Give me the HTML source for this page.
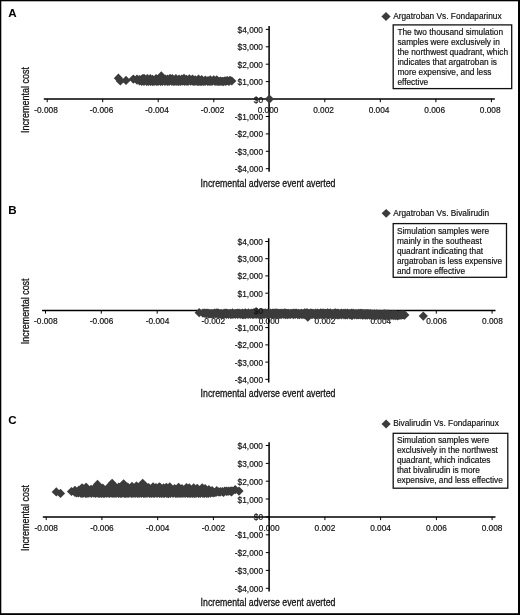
<!DOCTYPE html>
<html><head><meta charset="utf-8"><style>
html,body{margin:0;padding:0;background:#fff;}
body{width:520px;height:615px;overflow:hidden;}
svg{display:block;filter:grayscale(1) blur(0.3px);}
text{font-family:"Liberation Sans",sans-serif;stroke:#111;stroke-width:0.18px;}
.t{stroke-width:0.28px;}
.L{stroke:none;}
</style></head><body>
<svg width="520" height="615" viewBox="0 0 520 615" font-family="Liberation Sans, sans-serif" font-size="8.3" fill="#111">
<rect x="0" y="0" width="520" height="615" fill="#000"/>
<rect x="1.3" y="1.3" width="516.7" height="611.9" fill="#fff"/>
<text x="8.3" y="16.7" class="L" font-size="11.6" font-weight="bold" fill="#000">A</text>
<text x="263" y="32.9" text-anchor="end">$4,000</text>
<text x="263" y="50.3" text-anchor="end">$3,000</text>
<text x="263" y="67.7" text-anchor="end">$2,000</text>
<text x="263" y="85.1" text-anchor="end">$1,000</text>
<text x="263" y="120" text-anchor="end">-$1,000</text>
<text x="263" y="137.4" text-anchor="end">-$2,000</text>
<text x="263" y="154.8" text-anchor="end">-$3,000</text>
<text x="263" y="172.2" text-anchor="end">-$4,000</text>
<text x="46" y="113" text-anchor="middle">-0.008</text>
<text x="101.5" y="113" text-anchor="middle">-0.006</text>
<text x="157.1" y="113" text-anchor="middle">-0.004</text>
<text x="212.6" y="113" text-anchor="middle">-0.002</text>
<text x="268.1" y="113" text-anchor="middle">0.000</text>
<text x="323.6" y="113" text-anchor="middle">0.002</text>
<text x="379.1" y="113" text-anchor="middle">0.004</text>
<text x="434.7" y="113" text-anchor="middle">0.006</text>
<text x="490.2" y="113" text-anchor="middle">0.008</text>
<path d="M43.8 99H494.8M269.1 26.1V171.8" stroke="#000" stroke-width="1.5" fill="none"/>
<path d="M265.8 29.4H269.1M47.2 99V102.2M265.8 46.8H269.1M102.7 99V102.2M265.8 64.2H269.1M158.2 99V102.2M265.8 81.6H269.1M213.8 99V102.2M265.8 99H269.1M269.3 99V102.2M265.8 116.5H269.1M324.8 99V102.2M265.8 133.9H269.1M380.3 99V102.2M265.8 151.3H269.1M435.9 99V102.2M265.8 168.7H269.1M491.4 99V102.2" stroke="#000" stroke-width="1" fill="none"/>
<path d="M137 78.9L137 80.1L139.4 80.1L141.6 80L144.4 80L147.4 80L150.3 80.1L152.5 80.2L156.1 79.9L158.6 79.3L162.4 78.9L165.2 79.2L167.4 79.4L170 79.7L172.3 79.7L175.9 79.7L179.1 79.8L181.8 79.8L184 79.8L186.5 79.8L189.4 79.9L192.5 80L195.2 80.1L198.5 80.2L201.7 80.3L205.3 80.5L208 80.6L210.3 80.7L213.7 81.1L216.7 81.4L220 81.6L223.2 81.9L225.8 82L229 82.1L231.8 81L231.8 80.3L230 80.2L227.5 80.5L226 80.7L224.5 80.8L221.9 81L220.3 81.2L218.6 81.2L217.1 81.2L215.1 81.2L212.5 81.2L211 81.2L209.2 81.2L207.6 81.2L205.1 81.2L203.3 81.2L201.7 81.2L200.2 81.2L198.7 81.2L197.2 81.2L195 81.2L193.1 81.2L190.8 81.2L188.4 81.2L187 81.2L184.8 81.2L182.6 81.2L180.5 81.2L178.6 81.2L176.9 81.2L174.9 81.2L173.2 81.2L171.7 81.2L169.2 81.2L167.3 81.2L164.9 81.2L162.4 81.2L160.5 81.2L158 81.2L156.3 81.2L154 81.2L152.5 81.2L150.5 81.2L148.3 81.2L146.6 81.2L144 81.2L141.7 81.1L139.5 80.7L137 80.1L137 80.4ZM132.4 79L137 74.4L141.6 79L137 83.6ZM134.8 79.5L139.4 74.9L144 79.5L139.4 84.1ZM137 79.3L141.6 74.7L146.2 79.3L141.6 83.9ZM139.8 78.5L144.4 73.9L149 78.5L144.4 83.1ZM142.8 78.5L147.4 73.9L152 78.5L147.4 83.1ZM145.7 78.7L150.3 74.1L154.9 78.7L150.3 83.3ZM147.9 79.3L152.5 74.7L157.1 79.3L152.5 83.9ZM151.5 78.6L156.1 74L160.7 78.6L156.1 83.2ZM154 78.7L158.6 74.1L163.2 78.7L158.6 83.3ZM157.8 78.2L162.4 73.6L167 78.2L162.4 82.8ZM160.6 79.1L165.2 74.5L169.8 79.1L165.2 83.7ZM162.8 79.2L167.4 74.6L172 79.2L167.4 83.8ZM165.4 78.4L170 73.8L174.6 78.4L170 83ZM167.7 78.6L172.3 74L176.9 78.6L172.3 83.2ZM171.3 78.5L175.9 73.9L180.5 78.5L175.9 83.1ZM174.5 79.2L179.1 74.6L183.7 79.2L179.1 83.8ZM177.2 79.1L181.8 74.5L186.4 79.1L181.8 83.7ZM179.4 78.3L184 73.7L188.6 78.3L184 82.9ZM181.9 79.3L186.5 74.7L191.1 79.3L186.5 83.9ZM184.8 78.8L189.4 74.2L194 78.8L189.4 83.4ZM187.9 79.1L192.5 74.5L197.1 79.1L192.5 83.7ZM190.6 79.8L195.2 75.2L199.8 79.8L195.2 84.4ZM193.9 79L198.5 74.4L203.1 79L198.5 83.6ZM197.1 79.5L201.7 74.9L206.3 79.5L201.7 84.1ZM200.7 80L205.3 75.4L209.9 80L205.3 84.6ZM203.4 80.6L208 76L212.6 80.6L208 85.2ZM205.7 79.8L210.3 75.2L214.9 79.8L210.3 84.4ZM209.1 79.8L213.7 75.2L218.3 79.8L213.7 84.4ZM212.1 79.9L216.7 75.3L221.3 79.9L216.7 84.5ZM215.4 81.3L220 76.7L224.6 81.3L220 85.9ZM218.6 81.7L223.2 77.1L227.8 81.7L223.2 86.3ZM221.2 81.5L225.8 76.9L230.4 81.5L225.8 86.1ZM224.4 81.5L229 76.9L233.6 81.5L229 86.1ZM132.4 80.1L137 75.5L141.6 80.1L137 84.7ZM134.9 80.8L139.5 76.2L144.1 80.8L139.5 85.4ZM137.1 81.4L141.7 76.8L146.3 81.4L141.7 86ZM139.4 81.3L144 76.7L148.6 81.3L144 85.9ZM142 81.3L146.6 76.7L151.2 81.3L146.6 85.9ZM143.7 81.4L148.3 76.8L152.9 81.4L148.3 86ZM145.9 81.5L150.5 76.9L155.1 81.5L150.5 86.1ZM147.9 81.4L152.5 76.8L157.1 81.4L152.5 86ZM149.4 81.5L154 76.9L158.6 81.5L154 86.1ZM151.7 81.5L156.3 76.9L160.9 81.5L156.3 86.1ZM153.4 81.4L158 76.8L162.6 81.4L158 86ZM155.9 81.5L160.5 76.9L165.1 81.5L160.5 86.1ZM157.8 81.3L162.4 76.7L167 81.3L162.4 85.9ZM160.3 81.3L164.9 76.7L169.5 81.3L164.9 85.9ZM162.7 81.4L167.3 76.8L171.9 81.4L167.3 86ZM164.6 81.4L169.2 76.8L173.8 81.4L169.2 86ZM167.1 81.2L171.7 76.6L176.3 81.2L171.7 85.8ZM168.6 81.4L173.2 76.8L177.8 81.4L173.2 86ZM170.3 81.4L174.9 76.8L179.5 81.4L174.9 86ZM172.3 81.3L176.9 76.7L181.5 81.3L176.9 85.9ZM174 81.5L178.6 76.9L183.2 81.5L178.6 86.1ZM175.9 81.4L180.5 76.8L185.1 81.4L180.5 86ZM178 81.2L182.6 76.6L187.2 81.2L182.6 85.8ZM180.2 81.3L184.8 76.7L189.4 81.3L184.8 85.9ZM182.4 81.3L187 76.7L191.6 81.3L187 85.9ZM183.8 81.2L188.4 76.6L193 81.2L188.4 85.8ZM186.2 81.2L190.8 76.6L195.4 81.2L190.8 85.8ZM188.5 81.4L193.1 76.8L197.7 81.4L193.1 86ZM190.4 81.5L195 76.9L199.6 81.5L195 86.1ZM192.6 81.5L197.2 76.9L201.8 81.5L197.2 86.1ZM194.1 81.4L198.7 76.8L203.3 81.4L198.7 86ZM195.6 81.4L200.2 76.8L204.8 81.4L200.2 86ZM197.1 81.5L201.7 76.9L206.3 81.5L201.7 86.1ZM198.7 81.5L203.3 76.9L207.9 81.5L203.3 86.1ZM200.5 81.5L205.1 76.9L209.7 81.5L205.1 86.1ZM203 81.3L207.6 76.7L212.2 81.3L207.6 85.9ZM204.6 81.4L209.2 76.8L213.8 81.4L209.2 86ZM206.4 81.4L211 76.8L215.6 81.4L211 86ZM207.9 81.2L212.5 76.6L217.1 81.2L212.5 85.8ZM210.5 81.4L215.1 76.8L219.7 81.4L215.1 86ZM212.5 81.5L217.1 76.9L221.7 81.5L217.1 86.1ZM214 81.4L218.6 76.8L223.2 81.4L218.6 86ZM215.7 81.2L220.3 76.6L224.9 81.2L220.3 85.8ZM217.3 81.3L221.9 76.7L226.5 81.3L221.9 85.9ZM219.9 81L224.5 76.4L229.1 81L224.5 85.6ZM221.4 80.8L226 76.2L230.6 80.8L226 85.4ZM222.9 80.7L227.5 76.1L232.1 80.7L227.5 85.3ZM225.4 80.3L230 75.7L234.6 80.3L230 84.9ZM113.8 78.2L118.4 73.6L123 78.2L118.4 82.8ZM115.7 81L120.3 76.4L124.9 81L120.3 85.6ZM121.4 80.4L126 75.8L130.6 80.4L126 85ZM128.7 79.1L133.3 74.5L137.9 79.1L133.3 83.7ZM138.4 78.4L143 73.8L147.6 78.4L143 83ZM156.7 75.9L161.3 71.3L165.9 75.9L161.3 80.5ZM227.2 81L231.8 76.4L236.4 81L231.8 85.6ZM264.8 99.1L269.4 94.5L274 99.1L269.4 103.7Z" fill="#3b3b3b"/>
<text x="263" y="102.5" text-anchor="end">$0</text>
<path d="M381.4 16.4L386 12L390.6 16.4L386 20.9Z" fill="#3b3b3b"/>
<text x="393.2" y="18.8">Argatroban Vs. Fondaparinux</text>
<rect x="393.2" y="24.9" width="118.5" height="63.7" fill="#fff" stroke="#111" stroke-width="1.3"/>
<text x="397.4" y="34.9">The two thousand simulation</text>
<text x="397.4" y="44.9">samples were exclusively in</text>
<text x="397.4" y="54.9">the northwest quadrant, which</text>
<text x="397.4" y="64.8">indicates that argatroban is</text>
<text x="397.4" y="74.8">more expensive, and less</text>
<text x="397.4" y="84.8">effective</text>
<text x="200.6" y="186.8" class="t" font-size="10.2" textLength="134.8" lengthAdjust="spacingAndGlyphs">Incremental adverse event averted</text>
<text transform="translate(29 132.9) rotate(-90)" class="t" font-size="10.2" textLength="65.8" lengthAdjust="spacingAndGlyphs">Incremental cost</text>
<text x="8.3" y="214.2" class="L" font-size="11.6" font-weight="bold" fill="#000">B</text>
<text x="263" y="245" text-anchor="end">$4,000</text>
<text x="263" y="262.2" text-anchor="end">$3,000</text>
<text x="263" y="279.4" text-anchor="end">$2,000</text>
<text x="263" y="296.7" text-anchor="end">$1,000</text>
<text x="263" y="331.1" text-anchor="end">-$1,000</text>
<text x="263" y="348.4" text-anchor="end">-$2,000</text>
<text x="263" y="365.6" text-anchor="end">-$3,000</text>
<text x="263" y="382.8" text-anchor="end">-$4,000</text>
<text x="45.8" y="324.4" text-anchor="middle">-0.008</text>
<text x="101.6" y="324.4" text-anchor="middle">-0.006</text>
<text x="157.5" y="324.4" text-anchor="middle">-0.004</text>
<text x="213.3" y="324.4" text-anchor="middle">-0.002</text>
<text x="269.1" y="324.4" text-anchor="middle">0.000</text>
<text x="324.9" y="324.4" text-anchor="middle">0.002</text>
<text x="380.8" y="324.4" text-anchor="middle">0.004</text>
<text x="436.6" y="324.4" text-anchor="middle">0.006</text>
<text x="492.4" y="324.4" text-anchor="middle">0.008</text>
<path d="M42.1 310.4H495.5M268.7 238.2V382.4" stroke="#000" stroke-width="1.5" fill="none"/>
<path d="M265.3 241.5H268.7M45.5 310.4V313.6M265.3 258.7H268.7M101.3 310.4V313.6M265.3 275.9H268.7M157.2 310.4V313.6M265.3 293.2H268.7M213 310.4V313.6M265.3 310.4H268.7M268.8 310.4V313.6M265.3 327.6H268.7M324.6 310.4V313.6M265.3 344.9H268.7M380.5 310.4V313.6M265.3 362.1H268.7M436.3 310.4V313.6M265.3 379.3H268.7M492.1 310.4V313.6" stroke="#000" stroke-width="1" fill="none"/>
<path d="M203 313L203 313.6L204.4 313.6L206.1 313.6L207.9 313.6L209.1 313.6L211.1 313.6L212.8 313.6L214.6 313.6L216.1 313.6L217.1 313.6L218.4 313.6L220.1 313.6L221.6 313.6L223.5 313.6L224.9 313.6L226.1 313.6L227.4 313.6L229.2 313.6L230.7 313.6L232.5 313.6L234.1 313.6L235.9 313.6L237.4 313.6L239.1 313.6L240.9 313.6L242.3 313.6L244.2 313.6L245.4 313.6L246.6 313.6L248.4 313.6L250.2 313.6L251.8 313.6L253.4 313.6L254.4 313.6L256.1 313.6L257.9 313.6L259.8 313.6L261 313.6L262.3 313.6L263.9 313.6L265.3 313.6L267.2 313.6L268.7 313.6L270.5 313.6L272.4 313.6L273.9 313.6L275 313.6L276.2 313.6L278 313.6L279.5 313.6L281 313.6L282.5 313.6L284.3 313.6L285.8 313.6L287.1 313.6L288.6 313.6L290.4 313.6L291.8 313.6L293.3 313.6L295 313.6L296.5 313.6L298.4 313.6L300.3 313.6L301.6 313.6L303.5 313.6L304.6 313.6L306.1 313.6L307.3 313.6L309 313.6L310.9 313.6L312.5 313.6L313.7 313.6L315.6 313.6L317.6 313.6L319 313.6L320.8 313.6L322.3 313.6L323.6 313.6L325 313.6L326 313.6L327.5 313.6L328.8 313.6L330.3 313.6L332.3 313.6L334.2 313.7L335.5 313.7L337.2 313.7L338.4 313.7L340.3 313.7L341.6 313.7L343.4 313.8L345.1 313.8L346.2 313.8L347.7 313.8L349.6 313.8L351.3 313.9L353.1 313.9L355 313.9L356.3 313.9L358.2 314L359.4 314L360.6 314L361.8 314L363.1 314L364.4 314L365.7 314L366.9 314.1L368 314.1L369 314.1L370.6 314.1L372.1 314.2L373.2 314.2L374.7 314.3L376.5 314.4L378 314.4L379.9 314.5L381.7 314.6L383.3 314.6L384.7 314.7L385.8 314.7L387.6 314.8L388.8 314.9L390.6 314.9L392.2 315L393.5 315L394.9 315.1L396.4 315.2L398.3 315.3L399.9 315.3L401.8 315.4L403.1 315.5L404.5 315.6L405 315L405 315L404.8 314.7L403.1 314.9L400.9 315L399.4 315.1L397.7 315.3L395.8 315.4L393.8 315.5L391.9 315.4L389.5 315.4L387.7 315.4L386.2 315.3L384.7 315.3L383.2 315.3L380.6 315.3L378.9 315.2L376.4 315.2L374.8 315.2L372.9 315.1L371.2 315.1L369.5 315.1L367.2 315L365.4 315L363.8 315L362.4 314.9L360.2 314.9L358.2 314.9L356.8 314.9L354.7 314.8L352.2 314.8L349.9 314.8L347.3 314.7L345.7 314.7L344 314.7L341.4 314.7L339 314.6L337.6 314.6L335.7 314.6L333.6 314.5L331.7 314.5L329.9 314.5L327.7 314.5L326.1 314.5L323.8 314.5L321.4 314.5L319.6 314.5L317.9 314.5L315.9 314.5L314.4 314.5L312 314.5L309.7 314.5L307.7 314.5L306.1 314.5L304.1 314.5L302 314.4L299.5 314.4L297.8 314.4L295.2 314.4L293.3 314.4L290.7 314.4L289.1 314.4L287.5 314.4L285.6 314.4L283.8 314.4L281.6 314.4L279.9 314.4L278.5 314.4L276.7 314.4L275 314.4L273.5 314.4L271.4 314.4L269.1 314.4L267.3 314.4L264.7 314.4L263.1 314.4L261.4 314.4L259.7 314.4L258.2 314.4L256.1 314.4L253.8 314.4L252.4 314.4L250.2 314.3L248.1 314.3L245.7 314.3L243.8 314.3L242.4 314.3L240.2 314.3L237.7 314.3L235.3 314.3L232.9 314.3L230.9 314.3L228.5 314.3L226.3 314.3L223.9 314.3L221.8 314.2L220.2 314.1L218.4 314L215.9 314L213.7 313.9L211.7 313.8L210 313.6L208.6 313.5L206.7 313.3L205 313.2L203 313L203 313.3ZM198.4 313L203 308.4L207.6 313L203 317.6ZM199.8 313L204.4 308.4L209 313L204.4 317.6ZM201.5 313.2L206.1 308.6L210.7 313.2L206.1 317.8ZM203.3 313.1L207.9 308.5L212.5 313.1L207.9 317.7ZM204.5 313.5L209.1 308.9L213.7 313.5L209.1 318.1ZM206.5 313.5L211.1 308.9L215.7 313.5L211.1 318.1ZM208.2 313.5L212.8 308.9L217.4 313.5L212.8 318.1ZM210 313L214.6 308.4L219.2 313L214.6 317.6ZM211.5 313.1L216.1 308.5L220.7 313.1L216.1 317.7ZM212.5 312.8L217.1 308.2L221.7 312.8L217.1 317.4ZM213.8 313L218.4 308.4L223 313L218.4 317.6ZM215.5 313.6L220.1 309L224.7 313.6L220.1 318.2ZM217 313.6L221.6 309L226.2 313.6L221.6 318.2ZM218.9 313.6L223.5 309L228.1 313.6L223.5 318.2ZM220.3 313L224.9 308.4L229.5 313L224.9 317.6ZM221.5 313L226.1 308.4L230.7 313L226.1 317.6ZM222.8 313.3L227.4 308.7L232 313.3L227.4 317.9ZM224.6 313.5L229.2 308.9L233.8 313.5L229.2 318.1ZM226.1 313.3L230.7 308.7L235.3 313.3L230.7 317.9ZM227.9 312.9L232.5 308.3L237.1 312.9L232.5 317.5ZM229.5 313.5L234.1 308.9L238.7 313.5L234.1 318.1ZM231.3 313.4L235.9 308.8L240.5 313.4L235.9 318ZM232.8 313L237.4 308.4L242 313L237.4 317.6ZM234.5 313.1L239.1 308.5L243.7 313.1L239.1 317.7ZM236.3 313.6L240.9 309L245.5 313.6L240.9 318.2ZM237.7 313.1L242.3 308.5L246.9 313.1L242.3 317.7ZM239.6 313.4L244.2 308.8L248.8 313.4L244.2 318ZM240.8 312.9L245.4 308.3L250 312.9L245.4 317.5ZM242 313.5L246.6 308.9L251.2 313.5L246.6 318.1ZM243.8 312.9L248.4 308.3L253 312.9L248.4 317.5ZM245.6 313.6L250.2 309L254.8 313.6L250.2 318.2ZM247.2 313.1L251.8 308.5L256.4 313.1L251.8 317.7ZM248.8 312.9L253.4 308.3L258 312.9L253.4 317.5ZM249.8 313.6L254.4 309L259 313.6L254.4 318.2ZM251.5 313.2L256.1 308.6L260.7 313.2L256.1 317.8ZM253.3 313.2L257.9 308.6L262.5 313.2L257.9 317.8ZM255.2 313.5L259.8 308.9L264.4 313.5L259.8 318.1ZM256.4 313L261 308.4L265.6 313L261 317.6ZM257.7 313L262.3 308.4L266.9 313L262.3 317.6ZM259.3 313L263.9 308.4L268.5 313L263.9 317.6ZM260.7 312.9L265.3 308.3L269.9 312.9L265.3 317.5ZM262.6 313.1L267.2 308.5L271.8 313.1L267.2 317.7ZM264.1 313.3L268.7 308.7L273.3 313.3L268.7 317.9ZM265.9 313.1L270.5 308.5L275.1 313.1L270.5 317.7ZM267.8 313.2L272.4 308.6L277 313.2L272.4 317.8ZM269.3 313.2L273.9 308.6L278.5 313.2L273.9 317.8ZM270.4 313.2L275 308.6L279.6 313.2L275 317.8ZM271.6 312.8L276.2 308.2L280.8 312.8L276.2 317.4ZM273.4 313L278 308.4L282.6 313L278 317.6ZM274.9 313.4L279.5 308.8L284.1 313.4L279.5 318ZM276.4 313.1L281 308.5L285.6 313.1L281 317.7ZM277.9 313.3L282.5 308.7L287.1 313.3L282.5 317.9ZM279.7 312.9L284.3 308.3L288.9 312.9L284.3 317.5ZM281.2 313L285.8 308.4L290.4 313L285.8 317.6ZM282.5 313.4L287.1 308.8L291.7 313.4L287.1 318ZM284 313.3L288.6 308.7L293.2 313.3L288.6 317.9ZM285.8 313.5L290.4 308.9L295 313.5L290.4 318.1ZM287.2 313.3L291.8 308.7L296.4 313.3L291.8 317.9ZM288.7 313.2L293.3 308.6L297.9 313.2L293.3 317.8ZM290.4 313.2L295 308.6L299.6 313.2L295 317.8ZM291.9 313.2L296.5 308.6L301.1 313.2L296.5 317.8ZM293.8 313.4L298.4 308.8L303 313.4L298.4 318ZM295.7 313.6L300.3 309L304.9 313.6L300.3 318.2ZM297 313.3L301.6 308.7L306.2 313.3L301.6 317.9ZM298.9 313.5L303.5 308.9L308.1 313.5L303.5 318.1ZM300 312.9L304.6 308.3L309.2 312.9L304.6 317.5ZM301.5 312.9L306.1 308.3L310.7 312.9L306.1 317.5ZM302.7 312.9L307.3 308.3L311.9 312.9L307.3 317.5ZM304.4 313.4L309 308.8L313.6 313.4L309 318ZM306.3 312.9L310.9 308.3L315.5 312.9L310.9 317.5ZM307.9 313.3L312.5 308.7L317.1 313.3L312.5 317.9ZM309.1 313.5L313.7 308.9L318.3 313.5L313.7 318.1ZM311 313L315.6 308.4L320.2 313L315.6 317.6ZM313 313.1L317.6 308.5L322.2 313.1L317.6 317.7ZM314.4 313.6L319 309L323.6 313.6L319 318.2ZM316.2 312.9L320.8 308.3L325.4 312.9L320.8 317.5ZM317.7 313.2L322.3 308.6L326.9 313.2L322.3 317.8ZM319 313L323.6 308.4L328.2 313L323.6 317.6ZM320.4 313.4L325 308.8L329.6 313.4L325 318ZM321.4 313.3L326 308.7L330.6 313.3L326 317.9ZM322.9 312.8L327.5 308.2L332.1 312.8L327.5 317.4ZM324.2 313.3L328.8 308.7L333.4 313.3L328.8 317.9ZM325.7 312.9L330.3 308.3L334.9 312.9L330.3 317.5ZM327.7 313.5L332.3 308.9L336.9 313.5L332.3 318.1ZM329.6 313L334.2 308.4L338.8 313L334.2 317.6ZM330.9 312.9L335.5 308.3L340.1 312.9L335.5 317.5ZM332.6 313.1L337.2 308.5L341.8 313.1L337.2 317.7ZM333.8 313.3L338.4 308.7L343 313.3L338.4 317.9ZM335.7 313.6L340.3 309L344.9 313.6L340.3 318.2ZM337 313.1L341.6 308.5L346.2 313.1L341.6 317.7ZM338.8 313.4L343.4 308.8L348 313.4L343.4 318ZM340.5 313.1L345.1 308.5L349.7 313.1L345.1 317.7ZM341.6 313.6L346.2 309L350.8 313.6L346.2 318.2ZM343.1 313.1L347.7 308.5L352.3 313.1L347.7 317.7ZM345 313.6L349.6 309L354.2 313.6L349.6 318.2ZM346.7 313.2L351.3 308.6L355.9 313.2L351.3 317.8ZM348.5 313.2L353.1 308.6L357.7 313.2L353.1 317.8ZM350.4 313.5L355 308.9L359.6 313.5L355 318.1ZM351.7 313.6L356.3 309L360.9 313.6L356.3 318.2ZM353.6 313.4L358.2 308.8L362.8 313.4L358.2 318ZM354.8 313.6L359.4 309L364 313.6L359.4 318.2ZM356 313.3L360.6 308.7L365.2 313.3L360.6 317.9ZM357.2 313.3L361.8 308.7L366.4 313.3L361.8 317.9ZM358.5 313.5L363.1 308.9L367.7 313.5L363.1 318.1ZM359.8 313.8L364.4 309.2L369 313.8L364.4 318.4ZM361.1 313.7L365.7 309.1L370.3 313.7L365.7 318.3ZM362.3 313.6L366.9 309L371.5 313.6L366.9 318.2ZM363.4 313.5L368 308.9L372.6 313.5L368 318.1ZM364.4 313.9L369 309.3L373.6 313.9L369 318.5ZM366 313.5L370.6 308.9L375.2 313.5L370.6 318.1ZM367.5 314.1L372.1 309.5L376.7 314.1L372.1 318.7ZM368.6 314.1L373.2 309.5L377.8 314.1L373.2 318.7ZM370.1 313.9L374.7 309.3L379.3 313.9L374.7 318.5ZM371.9 313.9L376.5 309.3L381.1 313.9L376.5 318.5ZM373.4 314.2L378 309.6L382.6 314.2L378 318.8ZM375.3 314L379.9 309.4L384.5 314L379.9 318.6ZM377.1 314.3L381.7 309.7L386.3 314.3L381.7 318.9ZM378.7 314.2L383.3 309.6L387.9 314.2L383.3 318.8ZM380.1 313.9L384.7 309.3L389.3 313.9L384.7 318.5ZM381.2 314L385.8 309.4L390.4 314L385.8 318.6ZM383 314.2L387.6 309.6L392.2 314.2L387.6 318.8ZM384.2 314.1L388.8 309.5L393.4 314.1L388.8 318.7ZM386 314.8L390.6 310.2L395.2 314.8L390.6 319.4ZM387.6 314.4L392.2 309.8L396.8 314.4L392.2 319ZM388.9 314.5L393.5 309.9L398.1 314.5L393.5 319.1ZM390.3 314.4L394.9 309.8L399.5 314.4L394.9 319ZM391.8 314.6L396.4 310L401 314.6L396.4 319.2ZM393.7 315.2L398.3 310.6L402.9 315.2L398.3 319.8ZM395.3 314.8L399.9 310.2L404.5 314.8L399.9 319.4ZM397.2 314.9L401.8 310.3L406.4 314.9L401.8 319.5ZM398.5 314.7L403.1 310.1L407.7 314.7L403.1 319.3ZM399.9 315.2L404.5 310.6L409.1 315.2L404.5 319.8ZM198.4 313.2L203 308.6L207.6 313.2L203 317.8ZM200.4 313.5L205 308.9L209.6 313.5L205 318.1ZM202.1 313.6L206.7 309L211.3 313.6L206.7 318.2ZM204 313.8L208.6 309.2L213.2 313.8L208.6 318.4ZM205.4 313.8L210 309.2L214.6 313.8L210 318.4ZM207.1 313.9L211.7 309.3L216.3 313.9L211.7 318.5ZM209.1 313.9L213.7 309.3L218.3 313.9L213.7 318.5ZM211.3 314L215.9 309.4L220.5 314L215.9 318.6ZM213.8 314.2L218.4 309.6L223 314.2L218.4 318.8ZM215.6 314.1L220.2 309.5L224.8 314.1L220.2 318.7ZM217.2 314.3L221.8 309.7L226.4 314.3L221.8 318.9ZM219.3 314.5L223.9 309.9L228.5 314.5L223.9 319.1ZM221.7 314.3L226.3 309.7L230.9 314.3L226.3 318.9ZM223.9 314.4L228.5 309.8L233.1 314.4L228.5 319ZM226.3 314.6L230.9 310L235.5 314.6L230.9 319.2ZM228.3 314.5L232.9 309.9L237.5 314.5L232.9 319.1ZM230.7 314.4L235.3 309.8L239.9 314.4L235.3 319ZM233.1 314.4L237.7 309.8L242.3 314.4L237.7 319ZM235.6 314.4L240.2 309.8L244.8 314.4L240.2 319ZM237.8 314.6L242.4 310L247 314.6L242.4 319.2ZM239.2 314.6L243.8 310L248.4 314.6L243.8 319.2ZM241.1 314.6L245.7 310L250.3 314.6L245.7 319.2ZM243.5 314.5L248.1 309.9L252.7 314.5L248.1 319.1ZM245.6 314.5L250.2 309.9L254.8 314.5L250.2 319.1ZM247.8 314.5L252.4 309.9L257 314.5L252.4 319.1ZM249.2 314.4L253.8 309.8L258.4 314.4L253.8 319ZM251.5 314.5L256.1 309.9L260.7 314.5L256.1 319.1ZM253.6 314.5L258.2 309.9L262.8 314.5L258.2 319.1ZM255.1 314.4L259.7 309.8L264.3 314.4L259.7 319ZM256.8 314.6L261.4 310L266 314.6L261.4 319.2ZM258.5 314.5L263.1 309.9L267.7 314.5L263.1 319.1ZM260.1 314.5L264.7 309.9L269.3 314.5L264.7 319.1ZM262.7 314.5L267.3 309.9L271.9 314.5L267.3 319.1ZM264.5 314.5L269.1 309.9L273.7 314.5L269.1 319.1ZM266.8 314.5L271.4 309.9L276 314.5L271.4 319.1ZM268.9 314.5L273.5 309.9L278.1 314.5L273.5 319.1ZM270.4 314.7L275 310.1L279.6 314.7L275 319.3ZM272.1 314.5L276.7 309.9L281.3 314.5L276.7 319.1ZM273.9 314.5L278.5 309.9L283.1 314.5L278.5 319.1ZM275.3 314.7L279.9 310.1L284.5 314.7L279.9 319.3ZM277 314.5L281.6 309.9L286.2 314.5L281.6 319.1ZM279.2 314.5L283.8 309.9L288.4 314.5L283.8 319.1ZM281 314.6L285.6 310L290.2 314.6L285.6 319.2ZM282.9 314.6L287.5 310L292.1 314.6L287.5 319.2ZM284.5 314.5L289.1 309.9L293.7 314.5L289.1 319.1ZM286.1 314.4L290.7 309.8L295.3 314.4L290.7 319ZM288.7 314.7L293.3 310.1L297.9 314.7L293.3 319.3ZM290.6 314.5L295.2 309.9L299.8 314.5L295.2 319.1ZM293.2 314.6L297.8 310L302.4 314.6L297.8 319.2ZM294.9 314.7L299.5 310.1L304.1 314.7L299.5 319.3ZM297.4 314.7L302 310.1L306.6 314.7L302 319.3ZM299.5 314.7L304.1 310.1L308.7 314.7L304.1 319.3ZM301.5 314.5L306.1 309.9L310.7 314.5L306.1 319.1ZM303.1 314.5L307.7 309.9L312.3 314.5L307.7 319.1ZM305.1 314.5L309.7 309.9L314.3 314.5L309.7 319.1ZM307.4 314.7L312 310.1L316.6 314.7L312 319.3ZM309.8 314.6L314.4 310L319 314.6L314.4 319.2ZM311.3 314.8L315.9 310.2L320.5 314.8L315.9 319.4ZM313.3 314.6L317.9 310L322.5 314.6L317.9 319.2ZM315 314.7L319.6 310.1L324.2 314.7L319.6 319.3ZM316.8 314.7L321.4 310.1L326 314.7L321.4 319.3ZM319.2 314.8L323.8 310.2L328.4 314.8L323.8 319.4ZM321.5 314.5L326.1 309.9L330.7 314.5L326.1 319.1ZM323.1 314.5L327.7 309.9L332.3 314.5L327.7 319.1ZM325.3 314.5L329.9 309.9L334.5 314.5L329.9 319.1ZM327.1 314.7L331.7 310.1L336.3 314.7L331.7 319.3ZM329 314.5L333.6 309.9L338.2 314.5L333.6 319.1ZM331.1 314.8L335.7 310.2L340.3 314.8L335.7 319.4ZM333 314.8L337.6 310.2L342.2 314.8L337.6 319.4ZM334.4 314.9L339 310.3L343.6 314.9L339 319.5ZM336.8 314.9L341.4 310.3L346 314.9L341.4 319.5ZM339.4 314.9L344 310.3L348.6 314.9L344 319.5ZM341.1 314.9L345.7 310.3L350.3 314.9L345.7 319.5ZM342.7 314.9L347.3 310.3L351.9 314.9L347.3 319.5ZM345.3 314.8L349.9 310.2L354.5 314.8L349.9 319.4ZM347.6 314.9L352.2 310.3L356.8 314.9L352.2 319.5ZM350.1 314.8L354.7 310.2L359.3 314.8L354.7 319.4ZM352.2 314.9L356.8 310.3L361.4 314.9L356.8 319.5ZM353.6 315L358.2 310.4L362.8 315L358.2 319.6ZM355.6 315L360.2 310.4L364.8 315L360.2 319.6ZM357.8 315.2L362.4 310.6L367 315.2L362.4 319.8ZM359.2 315L363.8 310.4L368.4 315L363.8 319.6ZM360.8 315.2L365.4 310.6L370 315.2L365.4 319.8ZM362.6 315.2L367.2 310.6L371.8 315.2L367.2 319.8ZM364.9 315.1L369.5 310.5L374.1 315.1L369.5 319.7ZM366.6 315.2L371.2 310.6L375.8 315.2L371.2 319.8ZM368.3 315.3L372.9 310.7L377.5 315.3L372.9 319.9ZM370.2 315.4L374.8 310.8L379.4 315.4L374.8 320ZM371.8 315.4L376.4 310.8L381 315.4L376.4 320ZM374.3 315.4L378.9 310.8L383.5 315.4L378.9 320ZM376 315.3L380.6 310.7L385.2 315.3L380.6 319.9ZM378.6 315.5L383.2 310.9L387.8 315.5L383.2 320.1ZM380.1 315.6L384.7 311L389.3 315.6L384.7 320.2ZM381.6 315.5L386.2 310.9L390.8 315.5L386.2 320.1ZM383.1 315.6L387.7 311L392.3 315.6L387.7 320.2ZM384.9 315.5L389.5 310.9L394.1 315.5L389.5 320.1ZM387.3 315.5L391.9 310.9L396.5 315.5L391.9 320.1ZM389.2 315.7L393.8 311.1L398.4 315.7L393.8 320.3ZM391.2 315.6L395.8 311L400.4 315.6L395.8 320.2ZM393.1 315.6L397.7 311L402.3 315.6L397.7 320.2ZM394.8 315.2L399.4 310.6L404 315.2L399.4 319.8ZM396.3 315.2L400.9 310.6L405.5 315.2L400.9 319.8ZM398.5 314.9L403.1 310.3L407.7 314.9L403.1 319.5ZM400.2 314.9L404.8 310.3L409.4 314.9L404.8 319.5ZM194.6 312.7L199.2 308.1L203.8 312.7L199.2 317.3ZM303.2 317.2L307.8 312.6L312.4 317.2L307.8 321.8ZM347.4 315.6L352 311L356.6 315.6L352 320.2ZM370.4 315.8L375 311.2L379.6 315.8L375 320.4ZM383.4 316L388 311.4L392.6 316L388 320.6ZM393.1 316L397.7 311.4L402.3 316L397.7 320.6ZM400 315.2L404.6 310.6L409.2 315.2L404.6 319.8ZM418.7 316.1L423.3 311.5L427.9 316.1L423.3 320.7Z" fill="#3b3b3b"/>
<text x="263" y="313.9" text-anchor="end">$0</text>
<path d="M381.6 213.3L386.2 208.9L390.8 213.3L386.2 217.7Z" fill="#3b3b3b"/>
<text x="393.2" y="215.8">Argatroban Vs. Bivalirudin</text>
<rect x="393.2" y="223.6" width="113.3" height="53.7" fill="#fff" stroke="#111" stroke-width="1.3"/>
<text x="396.9" y="233.5">Simulation samples were</text>
<text x="396.9" y="243.5">mainly in the southeast</text>
<text x="396.9" y="253.5">quadrant indicating that</text>
<text x="396.9" y="263.5">argatroban is less expensive</text>
<text x="396.9" y="273.5">and more effective</text>
<text x="200.6" y="397.3" class="t" font-size="10.2" textLength="134.8" lengthAdjust="spacingAndGlyphs">Incremental adverse event averted</text>
<text transform="translate(29 344.2) rotate(-90)" class="t" font-size="10.2" textLength="65.8" lengthAdjust="spacingAndGlyphs">Incremental cost</text>
<text x="8.3" y="424.3" class="L" font-size="11.6" font-weight="bold" fill="#000">C</text>
<text x="263" y="449" text-anchor="end">$4,000</text>
<text x="263" y="466.9" text-anchor="end">$3,000</text>
<text x="263" y="484.7" text-anchor="end">$2,000</text>
<text x="263" y="502.5" text-anchor="end">$1,000</text>
<text x="263" y="538.2" text-anchor="end">-$1,000</text>
<text x="263" y="556.1" text-anchor="end">-$2,000</text>
<text x="263" y="573.9" text-anchor="end">-$3,000</text>
<text x="263" y="591.8" text-anchor="end">-$4,000</text>
<text x="46.2" y="530.9" text-anchor="middle">-0.008</text>
<text x="101.9" y="530.9" text-anchor="middle">-0.006</text>
<text x="157.7" y="530.9" text-anchor="middle">-0.004</text>
<text x="213.4" y="530.9" text-anchor="middle">-0.002</text>
<text x="269.2" y="530.9" text-anchor="middle">0.000</text>
<text x="324.9" y="530.9" text-anchor="middle">0.002</text>
<text x="380.6" y="530.9" text-anchor="middle">0.004</text>
<text x="436.4" y="530.9" text-anchor="middle">0.006</text>
<text x="492.1" y="530.9" text-anchor="middle">0.008</text>
<path d="M42.8 516.9H495.5M269.1 442.2V591.4" stroke="#000" stroke-width="1.5" fill="none"/>
<path d="M265.8 445.5H269.1M46.2 516.9V520.1M265.8 463.4H269.1M101.9 516.9V520.1M265.8 481.2H269.1M157.7 516.9V520.1M265.8 499H269.1M213.4 516.9V520.1M265.8 516.9H269.1M269.2 516.9V520.1M265.8 534.8H269.1M324.9 516.9V520.1M265.8 552.6H269.1M380.6 516.9V520.1M265.8 570.4H269.1M436.4 516.9V520.1M265.8 588.3H269.1M492.1 516.9V520.1" stroke="#000" stroke-width="1" fill="none"/>
<path d="M75 490L75 491.5L78.9 490.3L83.7 489.5L86.6 489.6L91.1 489.5L95 488.3L97.8 487.6L102.8 488.6L107.7 488L111.1 486.8L114.2 486.8L118.7 487.3L123.2 487.8L127.8 488.3L132 488.3L136.6 487.7L141.7 487.1L145.2 487.5L148.6 488.2L153.1 488.5L156 488.6L160.2 488.6L163.6 488.6L166.4 488.7L170.3 488.7L174.6 488.7L178.6 488.8L182 488.8L186.5 488.9L189.3 488.9L193.7 488.9L197.2 489L202.2 489.3L205.1 489.8L208.9 490.3L212.1 490.9L216.7 491.6L220 492.2L223.6 492.6L226.9 493L231.5 493.4L232 491.9L232 491L231.9 490.7L230.2 490.8L228.4 491L226.3 491.1L224.7 491.2L222.4 491.5L220.5 491.7L218.6 491.9L216.5 492.1L214.9 492.3L213.1 492.7L210.6 493.2L208.3 493.3L206.7 493.3L204.5 493.3L202.9 493.3L200.3 493.3L198.5 493.3L196 493.3L194.3 493.3L192.7 493.3L190.8 493.3L189.1 493.3L187.5 493.3L185.1 493.3L182.9 493.3L181 493.3L179.1 493.3L177.1 493.3L175.6 493.3L173 493.3L170.4 493.3L168.4 493.3L166.9 493.3L164.6 493.3L163.1 493.3L161.3 493.3L159.5 493.3L157.1 493.3L154.8 493.3L153.2 493.3L151.2 493.3L149.5 493.3L147 493.3L145 493.3L143.6 493.2L141.4 493.2L139.1 493.2L137.4 493.2L135.1 493.2L133 493.2L131.3 493.2L128.8 493.2L127.1 493.2L125.6 493.2L124.2 493.2L121.8 493.2L120.3 493.2L118.5 493.2L116 493.2L114 493.2L112.1 493.2L109.7 493.2L108.1 493.2L106.5 493.2L104.7 493.2L103.3 493.2L101.5 493.2L99.7 493.2L98.2 493.2L95.7 493.2L93.9 493.2L91.3 493.2L88.8 493.2L87 493.2L85.5 493.2L82.9 493.2L81.1 493.2L78.5 492.9L76.6 492.5L75 492.2L75 492.5ZM70.4 490.3L75 485.7L79.6 490.3L75 494.9ZM74.3 490.2L78.9 485.6L83.5 490.2L78.9 494.8ZM79.1 489.2L83.7 484.6L88.3 489.2L83.7 493.8ZM82 487.7L86.6 483.1L91.2 487.7L86.6 492.3ZM86.5 489.3L91.1 484.7L95.7 489.3L91.1 493.9ZM90.4 487.5L95 482.9L99.6 487.5L95 492.1ZM93.2 486.4L97.8 481.8L102.4 486.4L97.8 491ZM98.2 488.2L102.8 483.6L107.4 488.2L102.8 492.8ZM103.1 488L107.7 483.4L112.3 488L107.7 492.6ZM106.5 485.1L111.1 480.5L115.7 485.1L111.1 489.7ZM109.6 485.8L114.2 481.2L118.8 485.8L114.2 490.4ZM114.1 487.2L118.7 482.6L123.3 487.2L118.7 491.8ZM118.6 487.1L123.2 482.5L127.8 487.1L123.2 491.7ZM123.2 487.2L127.8 482.6L132.4 487.2L127.8 491.8ZM127.4 486.4L132 481.8L136.6 486.4L132 491ZM132 486.2L136.6 481.6L141.2 486.2L136.6 490.8ZM137.1 486.4L141.7 481.8L146.3 486.4L141.7 491ZM140.6 485.8L145.2 481.2L149.8 485.8L145.2 490.4ZM144 487.5L148.6 482.9L153.2 487.5L148.6 492.1ZM148.5 486.8L153.1 482.2L157.7 486.8L153.1 491.4ZM151.4 487.6L156 483L160.6 487.6L156 492.2ZM155.6 487.4L160.2 482.8L164.8 487.4L160.2 492ZM159 487.9L163.6 483.3L168.2 487.9L163.6 492.5ZM161.8 487.3L166.4 482.7L171 487.3L166.4 491.9ZM165.7 488.6L170.3 484L174.9 488.6L170.3 493.2ZM170 488.5L174.6 483.9L179.2 488.5L174.6 493.1ZM174 487.3L178.6 482.7L183.2 487.3L178.6 491.9ZM177.4 488.7L182 484.1L186.6 488.7L182 493.3ZM181.9 487.5L186.5 482.9L191.1 487.5L186.5 492.1ZM184.7 487.9L189.3 483.3L193.9 487.9L189.3 492.5ZM189.1 487.8L193.7 483.2L198.3 487.8L193.7 492.4ZM192.6 488.3L197.2 483.7L201.8 488.3L197.2 492.9ZM197.6 487.8L202.2 483.2L206.8 487.8L202.2 492.4ZM200.5 488.5L205.1 483.9L209.7 488.5L205.1 493.1ZM204.3 489.7L208.9 485.1L213.5 489.7L208.9 494.3ZM207.5 490.5L212.1 485.9L216.7 490.5L212.1 495.1ZM212.1 490.7L216.7 486.1L221.3 490.7L216.7 495.3ZM215.4 492.1L220 487.5L224.6 492.1L220 496.7ZM219 492.3L223.6 487.7L228.2 492.3L223.6 496.9ZM222.3 491.5L226.9 486.9L231.5 491.5L226.9 496.1ZM226.9 492L231.5 487.4L236.1 492L231.5 496.6ZM70.4 492.4L75 487.8L79.6 492.4L75 497ZM72 492.8L76.6 488.2L81.2 492.8L76.6 497.4ZM73.9 493L78.5 488.4L83.1 493L78.5 497.6ZM76.5 493.5L81.1 488.9L85.7 493.5L81.1 498.1ZM78.3 493.4L82.9 488.8L87.5 493.4L82.9 498ZM80.9 493.5L85.5 488.9L90.1 493.5L85.5 498.1ZM82.4 493.5L87 488.9L91.6 493.5L87 498.1ZM84.2 493.2L88.8 488.6L93.4 493.2L88.8 497.8ZM86.7 493.3L91.3 488.7L95.9 493.3L91.3 497.9ZM89.3 493.2L93.9 488.6L98.5 493.2L93.9 497.8ZM91.1 493.5L95.7 488.9L100.3 493.5L95.7 498.1ZM93.6 493.3L98.2 488.7L102.8 493.3L98.2 497.9ZM95.1 493.3L99.7 488.7L104.3 493.3L99.7 497.9ZM96.9 493.4L101.5 488.8L106.1 493.4L101.5 498ZM98.7 493.5L103.3 488.9L107.9 493.5L103.3 498.1ZM100.1 493.4L104.7 488.8L109.3 493.4L104.7 498ZM101.9 493.2L106.5 488.6L111.1 493.2L106.5 497.8ZM103.5 493.2L108.1 488.6L112.7 493.2L108.1 497.8ZM105.1 493.4L109.7 488.8L114.3 493.4L109.7 498ZM107.5 493.3L112.1 488.7L116.7 493.3L112.1 497.9ZM109.4 493.5L114 488.9L118.6 493.5L114 498.1ZM111.4 493.4L116 488.8L120.6 493.4L116 498ZM113.9 493.5L118.5 488.9L123.1 493.5L118.5 498.1ZM115.7 493.3L120.3 488.7L124.9 493.3L120.3 497.9ZM117.2 493.4L121.8 488.8L126.4 493.4L121.8 498ZM119.6 493.3L124.2 488.7L128.8 493.3L124.2 497.9ZM121 493.5L125.6 488.9L130.2 493.5L125.6 498.1ZM122.5 493.3L127.1 488.7L131.7 493.3L127.1 497.9ZM124.2 493.3L128.8 488.7L133.4 493.3L128.8 497.9ZM126.7 493.4L131.3 488.8L135.9 493.4L131.3 498ZM128.4 493.3L133 488.7L137.6 493.3L133 497.9ZM130.5 493.5L135.1 488.9L139.7 493.5L135.1 498.1ZM132.8 493.4L137.4 488.8L142 493.4L137.4 498ZM134.5 493.5L139.1 488.9L143.7 493.5L139.1 498.1ZM136.8 493.3L141.4 488.7L146 493.3L141.4 497.9ZM139 493.3L143.6 488.7L148.2 493.3L143.6 497.9ZM140.4 493.5L145 488.9L149.6 493.5L145 498.1ZM142.4 493.3L147 488.7L151.6 493.3L147 497.9ZM144.9 493.4L149.5 488.8L154.1 493.4L149.5 498ZM146.6 493.4L151.2 488.8L155.8 493.4L151.2 498ZM148.6 493.3L153.2 488.7L157.8 493.3L153.2 497.9ZM150.2 493.3L154.8 488.7L159.4 493.3L154.8 497.9ZM152.5 493.3L157.1 488.7L161.7 493.3L157.1 497.9ZM154.9 493.4L159.5 488.8L164.1 493.4L159.5 498ZM156.7 493.5L161.3 488.9L165.9 493.5L161.3 498.1ZM158.5 493.3L163.1 488.7L167.7 493.3L163.1 497.9ZM160 493.5L164.6 488.9L169.2 493.5L164.6 498.1ZM162.3 493.5L166.9 488.9L171.5 493.5L166.9 498.1ZM163.8 493.6L168.4 489L173 493.6L168.4 498.2ZM165.8 493.5L170.4 488.9L175 493.5L170.4 498.1ZM168.4 493.3L173 488.7L177.6 493.3L173 497.9ZM171 493.5L175.6 488.9L180.2 493.5L175.6 498.1ZM172.5 493.5L177.1 488.9L181.7 493.5L177.1 498.1ZM174.5 493.4L179.1 488.8L183.7 493.4L179.1 498ZM176.4 493.5L181 488.9L185.6 493.5L181 498.1ZM178.3 493.4L182.9 488.8L187.5 493.4L182.9 498ZM180.5 493.4L185.1 488.8L189.7 493.4L185.1 498ZM182.9 493.4L187.5 488.8L192.1 493.4L187.5 498ZM184.5 493.3L189.1 488.7L193.7 493.3L189.1 497.9ZM186.2 493.4L190.8 488.8L195.4 493.4L190.8 498ZM188.1 493.4L192.7 488.8L197.3 493.4L192.7 498ZM189.7 493.5L194.3 488.9L198.9 493.5L194.3 498.1ZM191.4 493.5L196 488.9L200.6 493.5L196 498.1ZM193.9 493.4L198.5 488.8L203.1 493.4L198.5 498ZM195.7 493.5L200.3 488.9L204.9 493.5L200.3 498.1ZM198.3 493.4L202.9 488.8L207.5 493.4L202.9 498ZM199.9 493.4L204.5 488.8L209.1 493.4L204.5 498ZM202.1 493.3L206.7 488.7L211.3 493.3L206.7 497.9ZM203.7 493.5L208.3 488.9L212.9 493.5L208.3 498.1ZM206 493.2L210.6 488.6L215.2 493.2L210.6 497.8ZM208.5 493L213.1 488.4L217.7 493L213.1 497.6ZM210.3 492.6L214.9 488L219.5 492.6L214.9 497.2ZM211.9 492.1L216.5 487.5L221.1 492.1L216.5 496.7ZM214 491.9L218.6 487.3L223.2 491.9L218.6 496.5ZM215.9 491.7L220.5 487.1L225.1 491.7L220.5 496.3ZM217.8 491.7L222.4 487.1L227 491.7L222.4 496.3ZM220.1 491.2L224.7 486.6L229.3 491.2L224.7 495.8ZM221.7 491.2L226.3 486.6L230.9 491.2L226.3 495.8ZM223.8 491.2L228.4 486.6L233 491.2L228.4 495.8ZM225.6 491.1L230.2 486.5L234.8 491.1L230.2 495.7ZM227.3 490.9L231.9 486.3L236.5 490.9L231.9 495.5ZM51.7 491.9L56.3 487.3L60.9 491.9L56.3 496.5ZM55.9 493.4L60.5 488.8L65.1 493.4L60.5 498ZM66.9 491.5L71.5 486.9L76.1 491.5L71.5 496.1ZM77.4 487.9L82 483.3L86.6 487.9L82 492.5ZM81.4 487.3L86 482.7L90.6 487.3L86 491.9ZM92.9 484.4L97.5 479.8L102.1 484.4L97.5 489ZM107.5 483.3L112.1 478.7L116.7 483.3L112.1 487.9ZM119 483.8L123.6 479.2L128.2 483.8L123.6 488.4ZM131.7 486.1L136.3 481.5L140.9 486.1L136.3 490.7ZM138.1 483.3L142.7 478.7L147.3 483.3L142.7 487.9ZM154.6 486.9L159.2 482.3L163.8 486.9L159.2 491.5ZM165.2 486.9L169.8 482.3L174.4 486.9L169.8 491.5ZM230.6 489.6L235.2 485L239.8 489.6L235.2 494.2ZM234.4 491.1L239 486.5L243.6 491.1L239 495.7Z" fill="#3b3b3b"/>
<text x="263" y="520.4" text-anchor="end">$0</text>
<path d="M381.5 424L386.1 419.6L390.7 424L386.1 428.4Z" fill="#3b3b3b"/>
<text x="393.2" y="426.3">Bivalirudin Vs. Fondaparinux</text>
<rect x="393.2" y="433.3" width="114.6" height="54.9" fill="#fff" stroke="#111" stroke-width="1.3"/>
<text x="396.9" y="442.7">Simulation samples were</text>
<text x="396.9" y="452.7">exclusively in the northwest</text>
<text x="396.9" y="462.7">quadrant, which indicates</text>
<text x="396.9" y="472.7">that bivalirudin is more</text>
<text x="396.9" y="482.7">expensive, and less effective</text>
<text x="200.6" y="606.2" class="t" font-size="10.2" textLength="134.8" lengthAdjust="spacingAndGlyphs">Incremental adverse event averted</text>
<text transform="translate(29 550.9) rotate(-90)" class="t" font-size="10.2" textLength="65.8" lengthAdjust="spacingAndGlyphs">Incremental cost</text>
</svg>
</body></html>
